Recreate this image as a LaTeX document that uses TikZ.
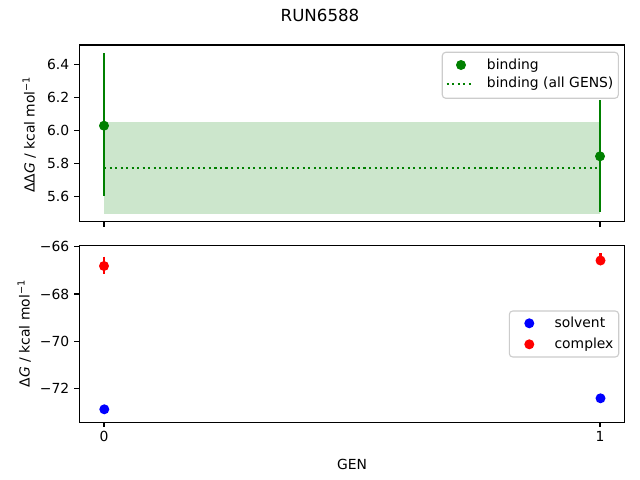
\documentclass[tikz,border=0pt]{standalone}
\usepackage{fontspec}
\setmainfont{DejaVu Sans}
\definecolor{mgreen}{RGB}{0,128,0}
\definecolor{mred}{RGB}{255,0,0}
\definecolor{mblue}{RGB}{0,0,255}
\definecolor{bandgreen}{RGB}{204,230,204}
\definecolor{legedge}{RGB}{204,204,204}
\begin{document}
\begin{tikzpicture}[x=0.72pt,y=-0.72pt,
  spine/.style={line width=0.8pt,black},
  tickmark/.style={line width=0.8pt,black},
  lab/.style={inner sep=0pt,font=\fontsize{10}{12}\selectfont},
  ebar/.style={line width=1.5pt},
  dot/.style={radius=3.6pt},
  legbox/.style={draw=legedge,fill=white,rounded corners=2.5pt,line width=0.8pt},
  dotline/.style={mgreen,line width=1.5pt,dash pattern=on 1.5pt off 2.475pt}]
\useasboundingbox[fill=white] (0,0) rectangle (640,480);
% title
\node[lab,font=\fontsize{12}{14}\selectfont,anchor=base] (title) at (320,21.7) {RUN6588};
% ---------- top axes ----------
\fill[bandgreen] (104,121.7) rectangle (600,213.7);
\coordinate (dl0) at (104,167.7);
\coordinate (dl1) at (600,167.7);
\draw[dotline] (dl0) -- (dl1);
\draw[ebar,mgreen] (104,53.3) -- (104,196.3);
\fill[mgreen] (104,125.7) circle[dot];
\draw[ebar,mgreen] (600,100) -- (600,211.7);
\fill[mgreen] (600,156.3) circle[dot];
\draw[spine] (79.2,45) rectangle (624.8,221.7);
\foreach \v in {6.4,6.2,6.0,5.8,5.6}{
  \pgfmathsetmacro\yy{130.3-(\v-6)*165}
  \draw[tickmark] (79.2,\yy) -- ++(-4.86,0);
  \node[lab,anchor=east] (ty\v) at (69.5,\yy) {\v};
}
\foreach \xx in {104,600}{
  \draw[tickmark] (\xx,221.7) -- ++(0,4.86);
}
\node[lab,rotate=90] (ylab1) at (29.2,134.5) {ΔΔ\textit{G} / kcal mol\textsuperscript{−1}};
% legend top
\node[legbox,minimum width=176*0.72pt,minimum height=46*0.72pt,inner sep=0pt] (leg1) at (530.3,75.3) {};
\fill[mgreen] (461,65) circle[dot];
\coordinate (ld0) at (446.7,83.7);
\coordinate (ld1) at (474,83.7);
\draw[dotline] (ld0) -- (ld1);
\node[lab,anchor=base west] (l1a) at (486.7,69) {binding};
\node[lab,anchor=base west] (l1b) at (486.7,87.7) {binding (all GENS)};
% ---------- bottom axes ----------
\draw[ebar,mred] (104,256.7) -- (104,274.3);
\fill[mred] (104,266) circle[dot];
\draw[ebar,mred] (600.5,253.3) -- (600.5,264);
\fill[mred] (600.5,260.5) circle[dot];
\fill[mblue] (104.3,409.3) circle[dot];
\fill[mblue] (600.5,398.3) circle[dot];
\draw[spine] (79.2,245.7) rectangle (624.8,422.3);
\foreach \v in {66,68,70,72}{
  \pgfmathsetmacro\yy{246.7+(\v-66)*23.67}
  \draw[tickmark] (79.2,\yy) -- ++(-4.86,0);
  \node[lab,anchor=east] (tb\v) at (69.5,\yy) {−\v};
}
\foreach \xx/\t in {104/0,600/1}{
  \draw[tickmark] (\xx,422.3) -- ++(0,4.86);
  \node[lab,anchor=base] (tx\t) at (\xx,441.7) {\t};
}
\node[lab,anchor=base] (xlab) at (352,469.3) {GEN};
\node[lab,rotate=90] (ylab2) at (24.2,333.5) {Δ\textit{G} / kcal mol\textsuperscript{−1}};
% legend bottom
\node[legbox,minimum width=109.4*0.72pt,minimum height=46*0.72pt,inner sep=0pt] (leg2) at (564,334) {};
\fill[mblue] (529.3,323.3) circle[dot];
\fill[mred] (529.3,344.3) circle[dot];
\node[lab,anchor=base west] (l2a) at (554.3,327.3) {solvent};
\node[lab,anchor=base west] (l2b) at (554.3,348.3) {complex};
\end{tikzpicture}
\end{document}
